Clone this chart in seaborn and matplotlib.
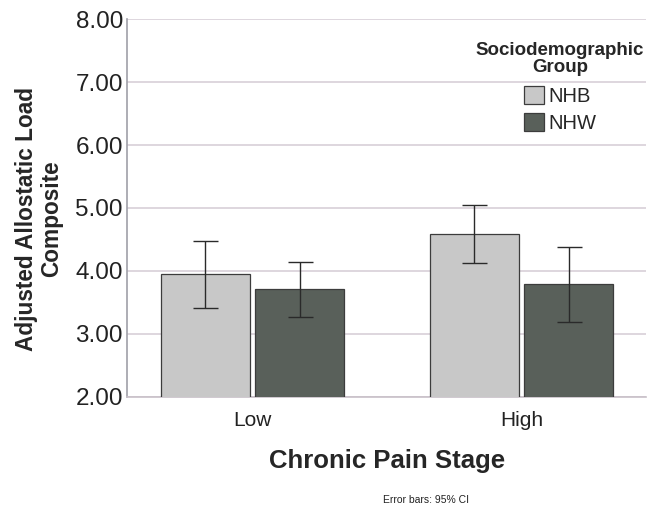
import matplotlib
matplotlib.use("Agg")
import matplotlib.pyplot as plt
import seaborn as sns
import pandas as pd
import numpy as np

stages = ["Low", "High"]
groups = ["NHB", "NHW"]
nhb_mean = [3.95, 4.58]
nhw_mean = [3.71, 3.79]
nhb_ci_low = [3.42, 4.12]
nhb_ci_high = [4.48, 5.04]
nhw_ci_low = [3.27, 3.19]
nhw_ci_high = [4.15, 4.38]
yticks = [2.0, 3.0, 4.0, 5.0, 6.0, 7.0, 8.0]

df = pd.DataFrame({
    "stage": stages * 2,
    "group": [groups[0]] * 2 + [groups[1]] * 2,
    "value": nhb_mean + nhw_mean,
})
ci_lo = {groups[0]: nhb_ci_low, groups[1]: nhw_ci_low}
ci_hi = {groups[0]: nhb_ci_high, groups[1]: nhw_ci_high}

sns.set_style("white")
plt.rcParams['font.family'] = ['Liberation Sans', 'DejaVu Sans']

fig = plt.figure(figsize=(6.52, 5.07), dpi=100)
ax = fig.add_axes([0.195, 0.217, 0.796, 0.7455])

palette = {"NHB": "#c8c8c8", "NHW": "#59605a"}
sns.barplot(data=df, x="stage", y="value", hue="group", order=stages,
            hue_order=groups, palette=palette, errorbar=None, width=0.703,
            gap=0.058, edgecolor="#3c3c3c", linewidth=0.9, ax=ax, zorder=3,
            saturation=1)

for cont, g in zip(ax.containers, groups):
    xs = [p.get_x() + p.get_width() / 2 for p in cont.patches]
    means = [p.get_height() + p.get_y() for p in cont.patches]
    lo = np.array(ci_lo[g]); hi = np.array(ci_hi[g])
    m = np.array(means)
    ax.errorbar(xs, m, yerr=[m - lo, hi - m], fmt="none", ecolor="#2a2a2a",
                elinewidth=1.0, capsize=9, capthick=1.0, zorder=4)

ax.set_ylim(2.0, 8.0)
ax.set_xlim(-0.467, 1.463)
ax.set_yticks(yticks)
ax.set_yticklabels([f"{t:.2f}" for t in yticks], fontsize=17.5, color="#222222")
ax.tick_params(axis="x", labelsize=15, colors="#222222", length=0, pad=10)
ax.tick_params(axis="y", length=0, pad=3)
ax.yaxis.grid(True, color="#d8d0d8", linewidth=1.2, zorder=0)
ax.set_axisbelow(True)
for s in ["top", "right"]:
    ax.spines[s].set_visible(False)
ax.spines["left"].set_color("#a0a0a8")
ax.spines["left"].set_linewidth(1.2)
ax.spines["bottom"].set_color("#c8c0c8")
ax.spines["bottom"].set_linewidth(1.2)

ax.set_xlabel("Chronic Pain Stage", fontsize=18.5, fontweight="bold", labelpad=14)
ax.set_ylabel("Adjusted Allostatic Load\nComposite", fontsize=16.3,
              fontweight="bold", linespacing=1.15)
ax.yaxis.set_label_coords(-0.123, 0.472)

handles = [ax.containers[0].patches[0], ax.containers[1].patches[0]]
leg = ax.legend(handles, groups, title="Sociodemographic\nGroup",
                frameon=False, fontsize=14.5,
                title_fontproperties={"weight": "bold", "size": 13.5},
                loc="upper center", bbox_to_anchor=(0.834, 0.977),
                handlelength=1.0, handleheight=1.0, handletextpad=0.2,
                labelspacing=0.35, borderpad=0.2)
leg.get_title().set_multialignment("center")
leg.get_title().set_linespacing(1.05)
leg._legend_box.sep = 7

fig.text(0.653, 0.004, "Error bars: 95% CI", fontsize=7.5, ha="center", va="bottom",
         color="#222222")

fig.savefig("out.png", dpi=100)
